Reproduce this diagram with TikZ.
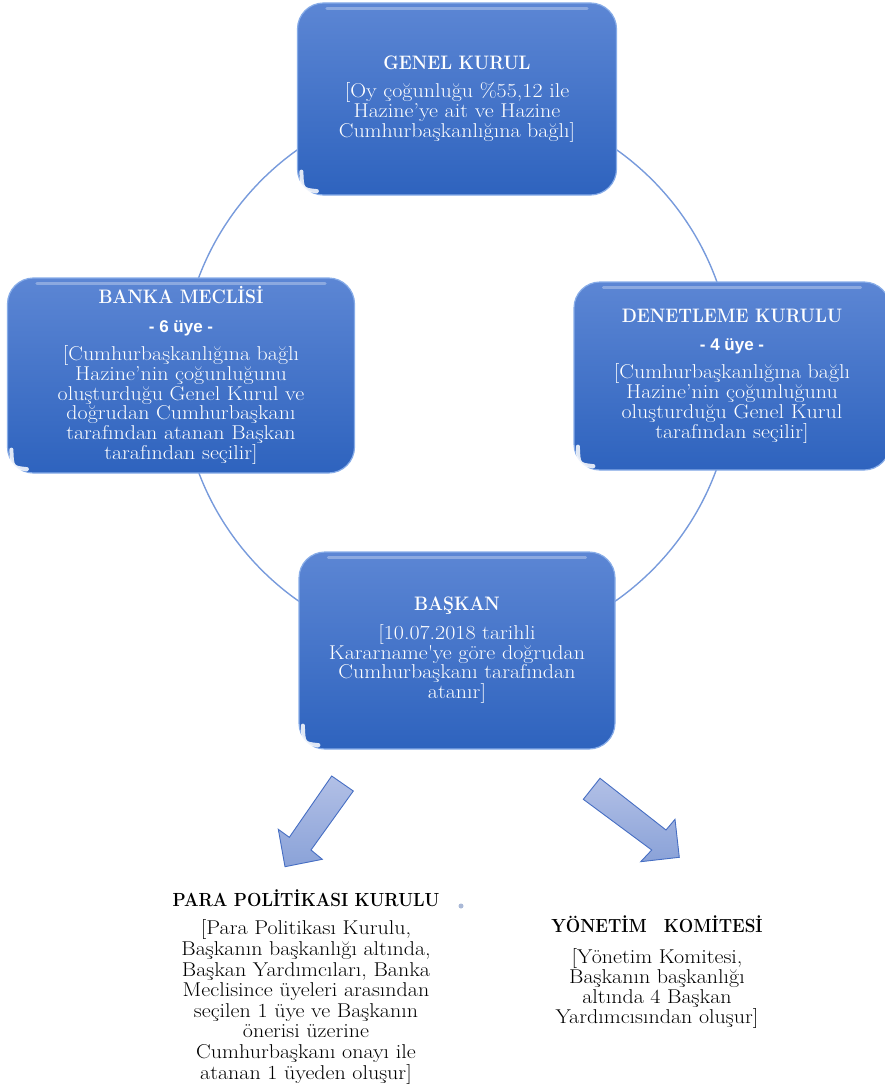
\documentclass[tikz,border=0pt]{standalone}
\usepackage{fontspec}
\newfontfamily\sanb{Liberation Sans}
\newfontfamily\bodyf{Latin Modern Roman}[FakeStretch=1.1]
\newfontfamily\ttlfam{Latin Modern Roman}[FakeStretch=0.9]
\usetikzlibrary{shadings}
\definecolor{boxtop}{RGB}{92,134,212}
\definecolor{boxbot}{RGB}{46,99,190}
\definecolor{boxedge}{RGB}{135,172,232}
\definecolor{ring}{RGB}{120,155,220}
\definecolor{arrtop}{RGB}{178,192,230}
\definecolor{arrbot}{RGB}{138,162,216}
\definecolor{arredge}{RGB}{70,110,195}
\definecolor{dotc}{RGB}{170,185,215}
\newcommand{\ttlf}{\ttlfam\fontsize{19.5}{19.8}\selectfont\bfseries}
\newcommand{\bttlf}{\ttlfam\fontsize{19}{20.5}\selectfont\bfseries}
\newcommand{\uyef}{\sanb\fontsize{17}{19.8}\selectfont\bfseries}
\begin{document}
\begin{tikzpicture}[x=1pt,y=-1pt,
  box/.style={rounded corners=26pt, top color=boxtop, bottom color=boxbot,
    draw=boxedge, line width=1.2pt, text=white, align=center, inner sep=0pt,
    font=\bodyf\fontsize{20}{19.8}\selectfont},
  btxt/.style={align=center, inner sep=0pt, text=black,
    font=\bodyf\fontsize{20}{20.6}\selectfont},
  gloss/.style={white, opacity=.3, line width=3pt, line cap=round},
  glare/.style={white, opacity=.85, line width=4pt, line cap=round},
  blockarrow/.style={top color=arrtop, bottom color=arrbot, draw=arredge, line width=0.9pt, line join=miter}
]
\useasboundingbox (0,0) rectangle (884,1089);

% ring
\coordinate (ctr) at (457,375);
\draw[ring, line width=1.4pt] (ctr) circle[radius=276pt];

% boxes
\node[box, minimum width=319pt, minimum height=192pt] (gk) at (457,99)
  {{\ttlf GENEL KURUL}\\[9pt]{[}Oy çoğunluğu \%55,12 ile\\Hazine’ye ait ve Hazine\\Cumhurbaşkanlığına bağlı{]}};

\node[box, minimum width=347pt, minimum height=195pt] (bm) at (181,375.5)
  {{\ttlf BANKA MECLİSİ}\\[8.6pt]{\uyef - 6 üye -}\\[8.5pt]{[}Cumhurbaşkanlığına bağlı\\Hazine’nin çoğunluğunu\\oluşturduğu Genel Kurul ve\\doğrudan Cumhurbaşkanı\\tarafından atanan Başkan\\tarafından seçilir{]}};

\node[box, minimum width=316pt, minimum height=188pt] (dk) at (732,376)
  {{\ttlf DENETLEME KURULU}\\[8.6pt]{\uyef - 4 üye -}\\[8.5pt]{[}Cumhurbaşkanlığına bağlı\\Hazine’nin çoğunluğunu\\oluşturduğu Genel Kurul\\tarafından seçilir{]}};

\node[box, minimum width=316pt, minimum height=197pt] (bs) at (457,650.5)
  {{\ttlf BAŞKAN}\\[8.6pt]{[}10.07.2018 tarihli\\Kararname\textquotesingle ye göre doğrudan\\Cumhurbaşkanı tarafından\\atanır{]}};

% gloss highlights and glares
\foreach \n in {gk,bm,dk,bs}{
  \draw[gloss] ([xshift=30pt,yshift=-6pt]\n.north west) -- ([xshift=-30pt,yshift=-6pt]\n.north east);
  \draw[glare] ([xshift=4.5pt,yshift=24pt]\n.south west) .. controls ([xshift=5pt,yshift=6pt]\n.south west) .. ([xshift=20pt,yshift=4.5pt]\n.south west);
}

% block arrows
\draw[blockarrow] (331.7,776) -- (353.3,791) -- (311,850) -- (322.3,859.3) -- (285,866.7) -- (278.3,829.3) -- (289.3,837.3) -- cycle;
\draw[blockarrow] (600,778.3) -- (666,830) -- (675,819.3) -- (679.3,857.3) -- (640.7,861.7) -- (651.7,850) -- (583.3,799.3) -- cycle;

% bottom texts
\node[btxt] (ppk) at (306,987)
  {{\bttlf PARA POLİTİKASI KURULU}\\[7.5pt]{[}Para Politikası Kurulu,\\Başkanın başkanlığı altında,\\Başkan Yardımcıları, Banka\\Meclisince üyeleri arasından\\seçilen 1 üye ve Başkanın\\önerisi üzerine\\Cumhurbaşkanı onayı ile\\atanan 1 üyeden oluşur{]}};

\node[btxt, font=\bodyf\fontsize{20}{20}\selectfont] (yk) at (657,972.5)
  {{\bttlf YÖNETİM\hspace{17pt}KOMİTESİ}\\[11pt]{[}Yönetim Komitesi,\\Başkanın başkanlığı\\altında 4 Başkan\\Yardımcısından oluşur{]}};

% small dot
\fill[dotc] (461,906) circle[radius=2.5pt];
\end{tikzpicture}
\end{document}
